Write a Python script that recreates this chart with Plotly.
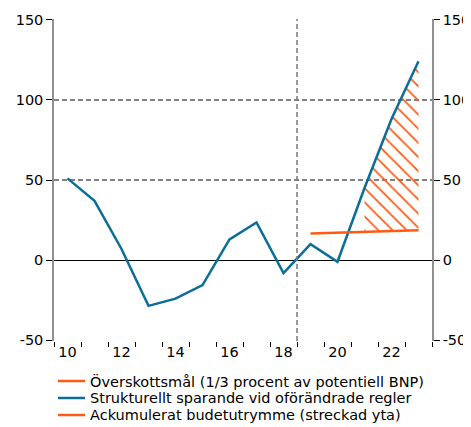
import plotly.graph_objects as go

# ---- data ----
years = [str(y) for y in range(2010, 2024)]
tick_labels = ["10", "", "12", "", "14", "", "16", "", "18", "", "20", "", "22", ""]
y_tick_vals = [-50, 0, 50, 100, 150]
y_tick_labels = ["-50", "0", "50", "100", "150"]
strukturellt = [51, 37, 7, -28.5, -24, -15.5, 13, 23.5, -8, 10, -1, 45, 88, 124]
mal_years = ["2019", "2020", "2021", "2022", "2023"]
overskottsmal = [16.6, 17.1, 17.6, 18.1, 18.6]
area_years = ["2021", "2022", "2023"]
forecast_start = "2019"
legend_names = ["Överskottsmål (1/3 procent av potentiell BNP)",
                "Strukturellt sparande vid oförändrade regler",
                "Ackumulerat budetutrymme (streckad yta)"]

BLUE = "#0a6e98"
ORANGE = "#ff5a14"
GRID = "#808080"
FONT = "DejaVu Sans"
legend_colors = [ORANGE, BLUE, ORANGE]

area_base = [overskottsmal[mal_years.index(y)] for y in area_years]
area_top = [strukturellt[years.index(y)] for y in area_years]

# figure geometry (page body adds an 8px margin)
W, H = 463, 419
ML, MT, PW, PH = 46, 11, 378, 322

fig = go.Figure()

# hatched area between target line and structural saving
fig.add_trace(go.Scatter(x=area_years, y=area_base, mode="lines",
                         line=dict(width=0, color=ORANGE), showlegend=False,
                         hoverinfo="skip"))
fig.add_trace(go.Scatter(x=area_years, y=area_top, mode="lines", fill="tonexty",
                         fillcolor="rgba(0,0,0,0)",
                         fillpattern=dict(shape="\\", fgcolor=ORANGE,
                                          fgopacity=1,
                                          bgcolor="rgba(0,0,0,0)", size=10,
                                          solidity=0.18),
                         line=dict(width=0, color=ORANGE), showlegend=False,
                         hoverinfo="skip"))

fig.add_trace(go.Scatter(x=years, y=strukturellt, mode="lines",
                         name=legend_names[1], showlegend=False,
                         line=dict(color=BLUE, width=2.5)))
fig.add_trace(go.Scatter(x=mal_years, y=overskottsmal, mode="lines",
                         name=legend_names[0], showlegend=False,
                         line=dict(color=ORANGE, width=2.5)))
# invisible trace on right axis so it is rendered
fig.add_trace(go.Scatter(x=[years[0]], y=[None], yaxis="y2", showlegend=False,
                         hoverinfo="skip"))

vline_x = years.index(forecast_start) - 0.5
fig.add_shape(type="line", xref="x", yref="paper", x0=vline_x, x1=vline_x,
              y0=0, y1=1, line=dict(color=GRID, width=1.6, dash="5px,3px"))

# custom legend (rows 17px apart)
row_y_px = [373, 390, 407]
for name, col, ypx in zip(legend_names, legend_colors, row_y_px):
    yp = (MT + PH - ypx) / PH
    fig.add_shape(type="line", xref="paper", yref="paper",
                  x0=(50 - ML) / PW, x1=(77 - ML) / PW, y0=yp, y1=yp,
                  line=dict(color=col, width=2.5))
    fig.add_annotation(xref="paper", yref="paper", x=(80 - ML) / PW, y=yp,
                       xanchor="left", yanchor="middle", showarrow=False,
                       text=name, font=dict(family=FONT, size=14.5, color="black"))

yaxis_common = dict(range=[-50.4, 150.4], tickmode="array",
                    tickvals=y_tick_vals, ticktext=y_tick_labels,
                    ticks="outside",
                    ticklen=6, tickcolor="black", tickwidth=1, showline=True,
                    linecolor="#909090", linewidth=1.5,
                    tickfont=dict(family=FONT, size=14.5, color="black"))

fig.update_layout(
    width=W, height=H,
    margin=dict(l=ML, r=W - ML - PW, t=MT, b=H - MT - PH, autoexpand=False),
    paper_bgcolor="white", plot_bgcolor="white",
    font=dict(family=FONT, size=14.5, color="black"),
    xaxis=dict(type="category", categoryorder="array", categoryarray=years,
               range=[-0.5, len(years) - 0.5],
               tickmode="array", tickvals=years, ticktext=tick_labels,
               tickson="boundaries", ticks="outside", ticklen=5,
               tickangle=0,
               tickcolor="black", showgrid=False, showline=False,
               zeroline=False,
               tickfont=dict(family=FONT, size=14.5, color="black")),
    yaxis=dict(**yaxis_common, showgrid=True, gridcolor=GRID, gridwidth=1.6,
               griddash="5px,3px", zeroline=True, zerolinecolor="black",
               zerolinewidth=1.2),
    yaxis2=dict(**yaxis_common, overlaying="y", side="right", matches="y",
                showgrid=False, zeroline=False),
    showlegend=False,
)

fig.write_html("out.html")
